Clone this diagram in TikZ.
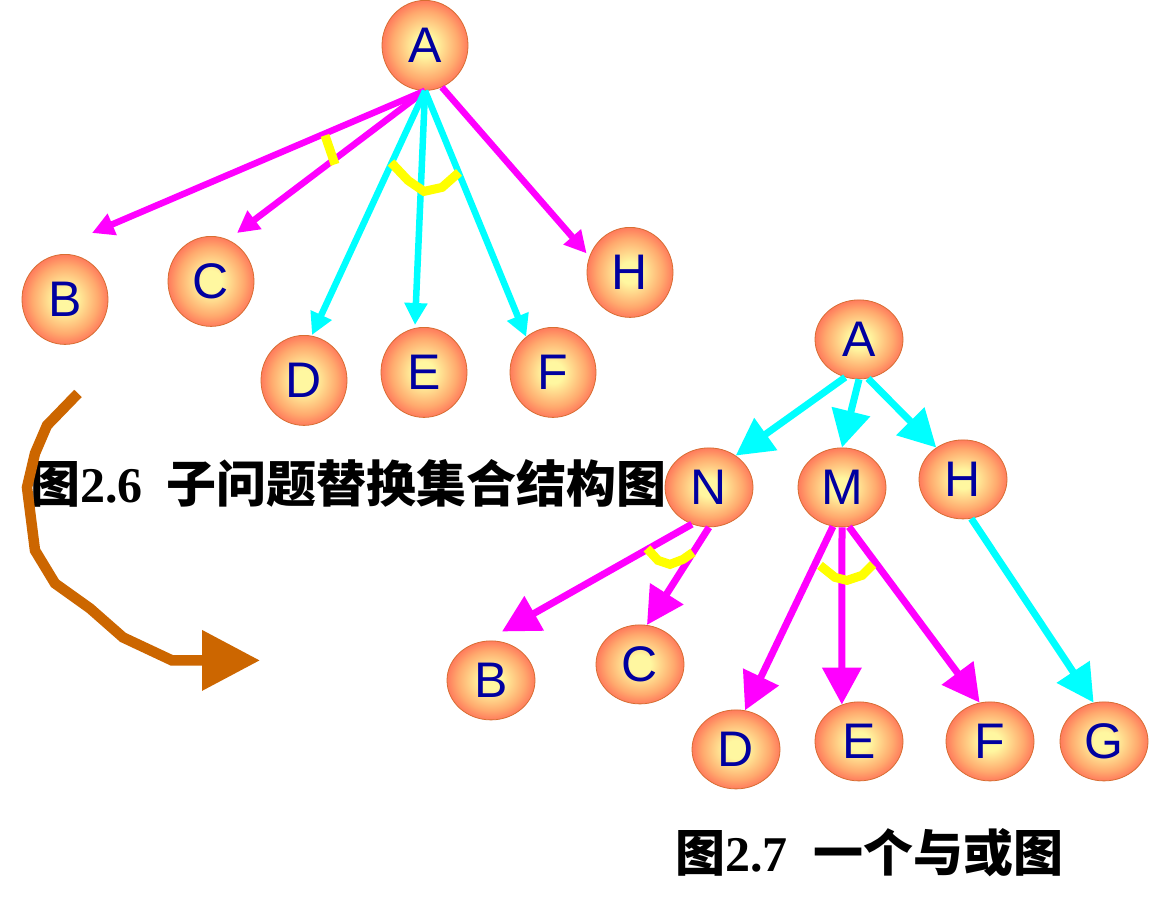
\documentclass[tikz,border=0pt]{standalone}
\usepackage{fontspec}
\setsansfont{Liberation Sans}
\newfontfamily\cjkfont{Noto Sans CJK SC}
\newfontfamily\numfont{Liberation Serif}
\usetikzlibrary{shapes.geometric}
\usetikzlibrary{arrows.meta}
\definecolor{ballcore}{RGB}{255,247,160}
\definecolor{ballmid}{RGB}{255,170,110}
\definecolor{ballrim}{RGB}{255,92,80}
\definecolor{balledge}{RGB}{215,110,50}
\definecolor{letterblue}{RGB}{0,0,160}
\definecolor{pinkline}{RGB}{255,0,255}
\definecolor{cyanline}{RGB}{0,255,255}
\definecolor{andyellow}{RGB}{255,255,0}
\definecolor{turnbrown}{RGB}{204,102,0}
\pgfdeclareradialshading{ballshade}{\pgfpoint{0bp}{0bp}}{color(0bp)=(ballcore); color(6bp)=(ballcore); color(19bp)=(ballmid); color(29bp)=(ballrim); color(50bp)=(ballrim)}

\begin{document}
\begin{tikzpicture}[x=1pt,y=-1pt,
    ball/.style={ellipse, draw=balledge, line width=0.8pt, shading=ballshade, inner sep=0pt,
        text=letterblue, font=\sffamily\fontsize{50}{50}\selectfont},
    tallball/.style={ball, minimum width=86pt, minimum height=90pt},
    flatball/.style={ball, minimum width=88pt, minimum height=79pt},
    toppink/.style={pinkline, line width=6.5pt, -{Triangle[length=22pt,width=22pt]}},
    topcyan/.style={cyanline, line width=6.5pt, -{Triangle[length=22pt,width=22pt]}},
    lowpink/.style={pinkline, line width=7pt, -{Triangle[length=37pt,width=38pt]}},
    lowcyan/.style={cyanline, line width=7pt, -{Triangle[length=37pt,width=38pt]}},
    andarc/.style={andyellow, line width=9pt},
    caption/.style={anchor=base west, inner sep=0pt, font=\fontsize{50}{50}\selectfont}]
    \fill[white] (0,0) rectangle (1154,912);

    % Fig 2.6: substitution set tree
    \node[tallball] (tA) at (425,45) {A};
    \node[tallball] (tB) at (65,299) {B};
    \node[tallball] (tC) at (211,281) {C};
    \node[tallball] (tD) at (304,380) {D};
    \node[tallball] (tE) at (424,372) {E};
    \node[tallball] (tF) at (553,372) {F};
    \node[tallball] (tH) at (630,272) {H};

    \draw[toppink] (tA.south) -- ([xshift=27pt,yshift=21pt]tB.north);
    \draw[toppink] (tA.south) -- ([xshift=26pt,yshift=3pt]tC.north);
    \draw[topcyan] (tA.south) -- ([xshift=8pt]tD.north);
    \draw[topcyan] (tA.south) -- ([xshift=-9pt,yshift=2pt]tE.north);
    \draw[topcyan] (tA.south) -- (tF.127);
    \draw[toppink] (tA.-68) -- ([yshift=19pt]tH.west);

    % and-marks
    \draw[andarc] (325,135) -- (335,164);
    \draw[andarc] (391,162) -- (408,180) -- (424,191) -- (442,187) -- (459,172);

    \node[caption] (cap1) at (30,502) {{\cjkfont\bfseries 图}{\numfont\bfseries 2.6}\hspace{24pt}{\cjkfont\bfseries 子问题替换集合结构图}};

    % turn arrow
    \coordinate (turnstart) at (78,393);
    \coordinate (turnend) at (260,660);
    \draw[turnbrown, line width=10.5pt, -{Triangle[length=58pt,width=58pt]}] (turnstart) -- (47,425) -- (35,453) -- (27,487)
        -- (35,550) -- (55,583) -- (90,608) -- (123,637) -- (172,660) -- (turnend);

    % Fig 2.7: and/or graph
    \node[flatball] (gA) at (859,339) {A};
    \node[flatball] (gN) at (709,487) {N};
    \node[flatball] (gM) at (842,487) {M};
    \node[flatball] (gH) at (963,479) {H};
    \node[flatball] (gB) at (491,680) {B};
    \node[flatball] (gC) at (640,664) {C};
    \node[flatball] (gD) at (736,749) {D};
    \node[flatball] (gE) at (859,741) {E};
    \node[flatball] (gF) at (990,741) {F};
    \node[flatball] (gG) at (1104,741) {G};

    \draw[lowcyan] (gA.-110) -- (gN.50);
    \draw[lowcyan] (gA.south) -- (gM.north);
    \draw[lowcyan] (gA.-77) -- (gH.130);
    \draw[lowpink] (gN.-115) -- ([xshift=11pt,yshift=9pt]gB.north);
    \draw[lowpink] (gN.south) -- (gC.80);
    \draw[lowpink] (gM.-103) -- (gD.77);
    \draw[lowpink] (gM.south) -- (gE.115);
    \draw[lowpink] (gM.-80) -- (gF.105);
    \draw[lowcyan] (gH.-78) -- (gG.105);

    % and-marks
    \draw[andarc] (647,548) -- (658,560) -- (670,564) -- (683,559) -- (693,552);
    \draw[andarc] (820,565) -- (835,577) -- (847,580) -- (862,575) -- (873,564);

    \node[caption] (cap2) at (675,871) {{\cjkfont\bfseries 图}{\numfont\bfseries 2.7}\hspace{26pt}{\cjkfont\bfseries 一个与或图}};
\end{tikzpicture}
\end{document}
